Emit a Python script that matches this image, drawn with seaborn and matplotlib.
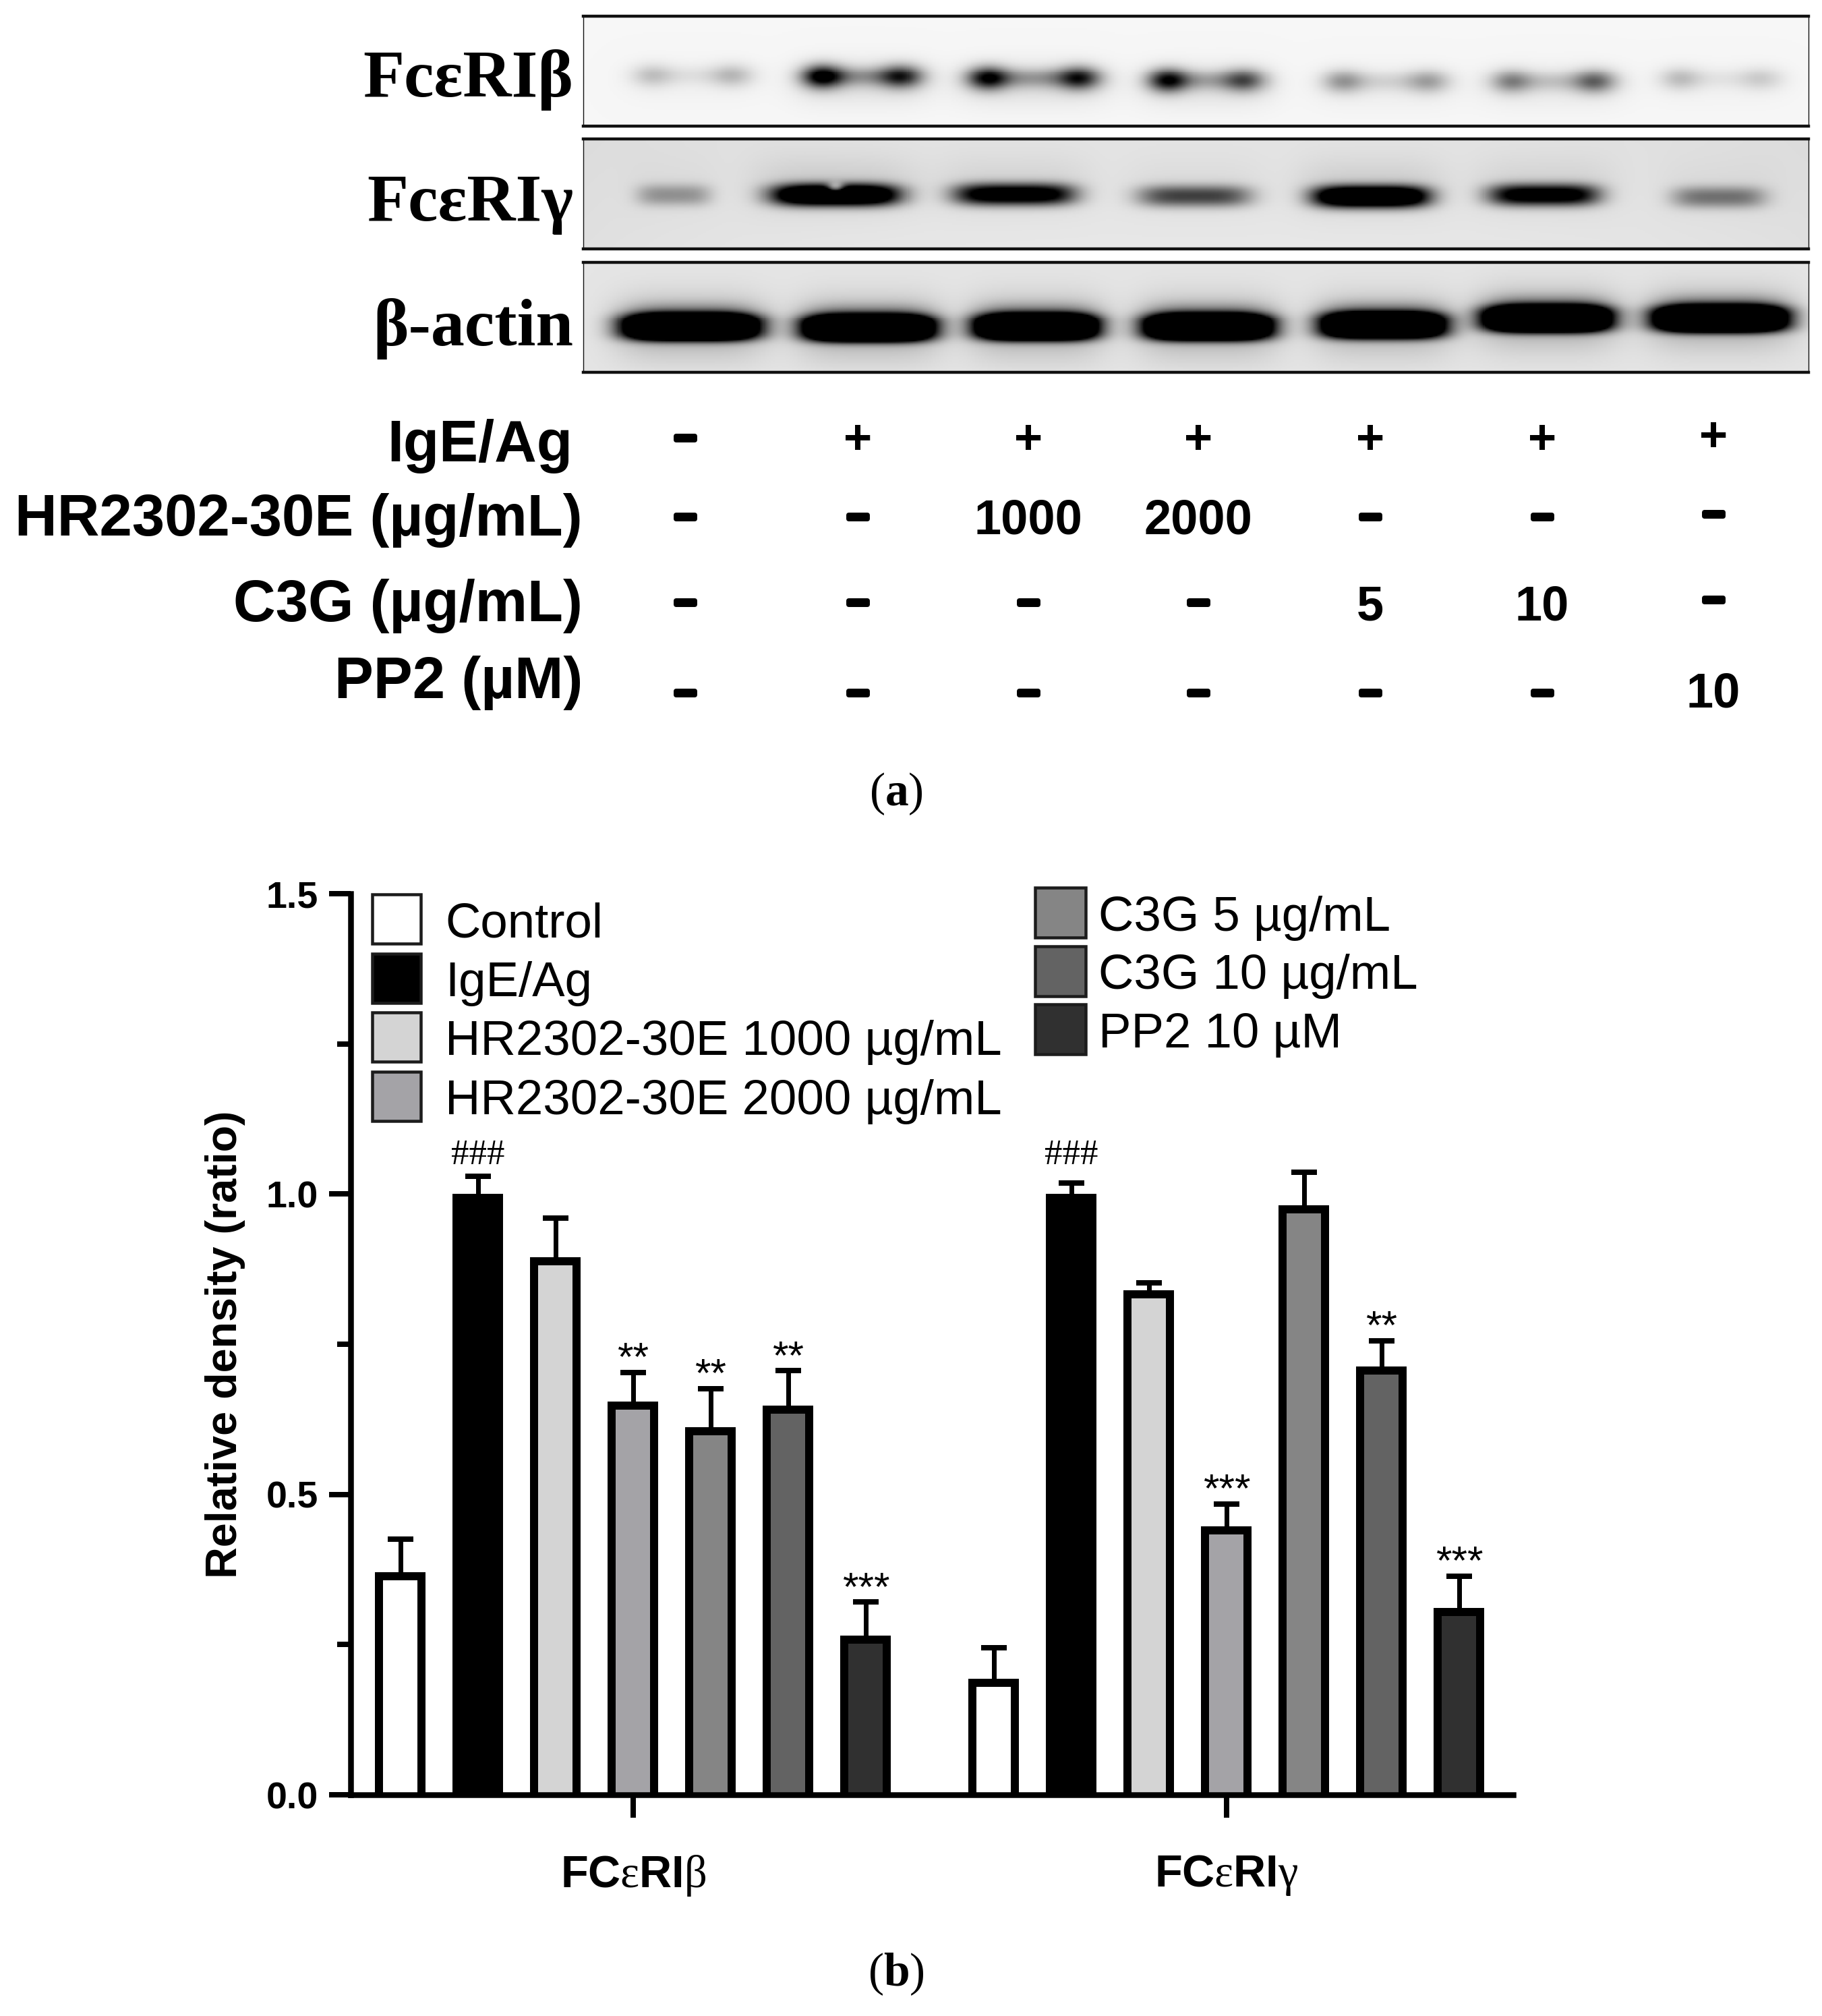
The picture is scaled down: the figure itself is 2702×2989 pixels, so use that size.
import numpy as np
import pandas as pd
import matplotlib
matplotlib.use("Agg")
import matplotlib.pyplot as plt
import matplotlib.patheffects as pe
from matplotlib.patches import Patch
from matplotlib.transforms import Bbox, TransformedBbox
import seaborn as sns

# ---------- data ----------
groups = ["FC$\\mathrm{ε}$RI$\\mathrm{β}$", "FC$\\mathrm{ε}$RI$\\mathrm{γ}$"]
treatments = ["Control", "IgE/Ag", "HR2302-30E 1000 µg/mL", "HR2302-30E 2000 µg/mL",
              "C3G 5 µg/mL", "C3G 10 µg/mL", "PP2 10 µM"]
beta_values = [0.37, 1.00, 0.895, 0.655, 0.612, 0.648, 0.265]
beta_errors = [0.055, 0.03, 0.065, 0.048, 0.064, 0.058, 0.056]
gamma_values = [0.193, 1.00, 0.84, 0.447, 0.981, 0.713, 0.311]
gamma_errors = [0.052, 0.018, 0.012, 0.037, 0.055, 0.043, 0.053]
beta_marks = ["", "###", "", "**", "**", "**", "***"]
gamma_marks = ["", "###", "", "***", "", "**", "***"]
bar_colors = ["#ffffff", "#000000", "#d4d4d4", "#a4a3a7", "#858585", "#636363", "#303030"]

blot_names = ["FcεRIβ", "FcεRIγ", "β-actin"]
row_names = ["IgE/Ag", "HR2302-30E (µg/mL)", "C3G (µg/mL)", "PP2 (µM)"]
row_igE = ["–", "+", "+", "+", "+", "+", "+"]
row_hr = ["–", "–", "1000", "2000", "–", "–", "–"]
row_c3g = ["–", "–", "–", "–", "5", "10", "–"]
row_pp2 = ["–", "–", "–", "–", "–", "–", "10"]

# band darkness per lane
beta_left = [0.15, 0.85, 0.75, 0.75, 0.28, 0.32, 0.17]
beta_right = [0.18, 0.6, 0.65, 0.45, 0.24, 0.44, 0.11]
beta_lobe_l = [0.056, 0.195, 0.33, 0.477, 0.62, 0.757, 0.895]
beta_lobe_r = [0.122, 0.26, 0.405, 0.54, 0.69, 0.826, 0.962]
beta_row = [0.54, 0.55, 0.565, 0.585, 0.595, 0.595, 0.57]
gamma_dark = [0.3, 1.5, 1.1, 0.62, 1.5, 1.05, 0.42]
gamma_x = [0.074, 0.206, 0.352, 0.499, 0.643, 0.784, 0.927]
gamma_hw = [0.03, 0.052, 0.049, 0.046, 0.047, 0.045, 0.038]
gamma_row = [0.51, 0.51, 0.505, 0.52, 0.525, 0.51, 0.53]
gamma_notch = [0, 0.8, 0, 0, 0, 0, 0]
actin_dark = [2.4, 2.4, 2.3, 2.3, 2.1, 2.4, 2.4]
actin_x = [0.088, 0.233, 0.37, 0.51, 0.653, 0.787, 0.928]
actin_hw = [0.054, 0.052, 0.049, 0.051, 0.05, 0.051, 0.053]
actin_row = [0.59, 0.6, 0.59, 0.59, 0.575, 0.515, 0.515]

# ---------- layout (pixels in the 2702x2989 figure) ----------
W, H = 2702, 2989
PX = 0.72  # points per pixel at dpi 100
def rect(x0, y0, x1, y1):
    return [x0 / W, 1 - y1 / H, (x1 - x0) / W, (y1 - y0) / H]

sns.set_theme(style="white", rc={"xtick.bottom": True, "ytick.left": True, "text.color": "black",
                                 "axes.labelcolor": "black", "xtick.color": "black",
                                 "ytick.color": "black"})
plt.rcParams["font.family"] = ["Liberation Sans", "DejaVu Sans"]
plt.rcParams["mathtext.fontset"] = "custom"
plt.rcParams["mathtext.rm"] = "Liberation Serif"
plt.rcParams["mathtext.bf"] = "Liberation Serif:bold"
plt.rcParams["mathtext.default"] = "regular"

fig = plt.figure(figsize=(W / 100, H / 100), dpi=100, facecolor="white")

# ---------- blots ----------
nx, ny = 900, 82
gx = (np.arange(nx) + 0.5) / nx
gy = (np.arange(ny) + 0.5) / ny
XX, YY = np.meshgrid(gx, gy)

def blot_beta():
    d = np.zeros_like(XX)
    for al, ar, xl, xr, yc in zip(beta_left, beta_right, beta_lobe_l, beta_lobe_r, beta_row):
        prof_y = np.exp(-((YY - yc) / 0.105) ** 2)
        d += al * np.exp(-((XX - xl) / 0.016) ** 2) * prof_y
        d += ar * np.exp(-((XX - xr) / 0.017) ** 2) * prof_y
        mid = (xl + xr) / 2
        hw = (xr - xl) / 2 + 0.012
        d += 0.42 * (al + ar) / 2 * np.exp(-np.abs((XX - mid) / hw) ** 4) * np.exp(-((YY - yc) / 0.09) ** 2)
        d += 0.07 * (al + ar) * np.exp(-np.abs((XX - mid) / (hw * 1.3)) ** 4) * np.exp(-((YY - yc - 0.05) / 0.2) ** 2)
    return np.clip(0.965 - d, 0, 1)

def blot_gamma():
    d = 0.035 + 0.03 * (np.abs(XX - 0.5) / 0.5) ** 3 + 0.015 * (1 - YY)
    for a, xc, hw, yc, n in zip(gamma_dark, gamma_x, gamma_hw, gamma_row, gamma_notch):
        band = a * np.exp(-np.abs((XX - xc) / hw) ** 4) * np.exp(-np.abs((YY - yc) / 0.1) ** 2.4)
        band = band * (1 - n * np.exp(-((XX - xc) / 0.007) ** 2) * np.exp(-((YY - yc + 0.09) / 0.06) ** 2))
        d = d + band
        d = d + 0.06 * a * np.exp(-np.abs((XX - xc) / (hw * 1.3)) ** 4) * np.exp(-((YY - yc + 0.1) / 0.25) ** 2)
    return np.clip(0.94 - d, 0, 1)

def blot_actin():
    d = np.full_like(XX, 0.055)
    for a, xc, hw, yc in zip(actin_dark, actin_x, actin_hw, actin_row):
        edge = np.exp(-np.abs((XX - xc) / hw) ** 4)
        d = d + a * edge * np.exp(-np.abs((YY - yc) / 0.115) ** 3)
        d = d + 0.28 * edge * np.exp(-((YY - yc + 0.13) / 0.09) ** 2)
        d = d + 0.1 * a * np.exp(-np.abs((XX - xc) / (hw * 1.15)) ** 4) * np.exp(-((YY - yc) / 0.27) ** 2)
    return np.clip(0.95 - d, 0, 1)

blot_images = [blot_beta(), blot_gamma(), blot_actin()]
blot_boxes = [(865, 24, 2682, 187), (865, 206, 2682, 369), (865, 389, 2682, 552)]
label_baselines = [143, 327, 512]
for img, box, name, base in zip(blot_images, blot_boxes, blot_names, label_baselines):
    bx = fig.add_axes(rect(*box))
    sns.heatmap(img, ax=bx, cmap="gray", vmin=0, vmax=1, cbar=False,
                xticklabels=False, yticklabels=False, rasterized=True)
    for side, lw in zip(["top", "bottom", "left", "right"], [3.2, 3.2, 1.0, 1.0]):
        bx.spines[side].set_visible(True)
        bx.spines[side].set_linewidth(lw)
        bx.spines[side].set_color("#111111")
    fig.text(850 / W, 1 - base / H, name, ha="right", va="baseline", fontsize=72,
             fontweight="bold", family="Liberation Serif", color="black")

# ---------- treatment table ----------
col_px = [1016, 1272, 1525, 1777, 2032, 2287, 2541]
col_nudge = [0, 0, 0, 0, 0, 0, -4]
row_baselines = [684, 794, 921, 1035]
row_right = [849, 864, 864, 864]
row_cy = [649, 766, 893, 1027]
for name, base, right in zip(row_names, row_baselines, row_right):
    fig.text(right / W, 1 - base / H, name, ha="right", va="baseline", fontsize=62.6,
             fontweight="bold", color="black")
cell_fs = 52
dash_fs = 42
for cells, cy in zip([row_igE, row_hr, row_c3g, row_pp2], row_cy):
    for s, cx, nud in zip(cells, col_px, col_nudge):
        if s == "–":
            base = cy + nud + 0.27 * dash_fs / PX
            fig.text(cx / W, 1 - base / H, s, ha="center", va="baseline", fontsize=dash_fs,
                     fontweight="bold", color="black",
                     path_effects=[pe.withStroke(linewidth=5, foreground="black")])
        else:
            mid = 0.33 if s == "+" else 0.36
            base = cy + nud + mid * cell_fs / PX
            fig.text(cx / W, 1 - base / H, s, ha="center", va="baseline", fontsize=cell_fs,
                     fontweight="bold", color="black")

# captions
fig.text(1329 / W, 1 - 1177 / H, "($\\mathbf{a}$)", ha="center", va="center", fontsize=50,
         family="Liberation Serif", color="black")
fig.text(1329 / W, 1 - 2927 / H, "($\\mathbf{b}$)", ha="center", va="center", fontsize=50,
         family="Liberation Serif", color="black")

# ---------- bar chart ----------
df = pd.DataFrame({
    "group": [groups[0]] * 7 + [groups[1]] * 7,
    "treatment": treatments * 2,
    "value": beta_values + gamma_values,
    "error": beta_errors + gamma_errors,
    "mark": beta_marks + gamma_marks,
})
ax = fig.add_axes(rect(519.5, 1325, 2244, 2661))
ax.set_facecolor("none")
stroke_pt = 24 * PX  # clipped to the bar, so half of it shows inside the bar
sns.barplot(data=df, x="group", y="value", hue="treatment", hue_order=treatments,
            order=groups, palette=bar_colors, width=0.9148, gap=0.348, saturation=1,
            edgecolor="black", linewidth=stroke_pt, errorbar=None, legend=False, ax=ax, zorder=3)
ax.set_xlim(-0.4767, 1.483)
ax.set_ylim(0, 1.5)
hash_base = 1.05
for cont, t in zip(ax.containers, treatments):
    sub = df[df.treatment == t]
    for bar, (_, row) in zip(cont, sub.iterrows()):
        x0, w, v = bar.get_x(), bar.get_width(), bar.get_height()
        # the bottom edge runs below the axis line, so only the sides and the top show a stroke
        bar.set_y(-0.05)
        bar.set_height(v + 0.05)
        bar.set_clip_box(TransformedBbox(Bbox([[x0, 0], [x0 + w, v]]), ax.transData))
        xc = x0 + w / 2
        ax.errorbar(xc, row["value"], yerr=[[0.03], [row["error"]]], ecolor="black",
                    elinewidth=7 * PX, capsize=19 * PX, capthick=8 * PX, zorder=2, clip_on=False)
        top = row["value"] + row["error"]
        if row["mark"].startswith("*"):
            ax.annotate(row["mark"], (xc, top), xytext=(0, 2.5), textcoords="offset points",
                        ha="center", va="baseline", fontsize=43.5, color="black")
        elif row["mark"]:
            ax.annotate(row["mark"], (xc, hash_base), ha="center", va="baseline", fontsize=38,
                        color="black", family="Liberation Serif")

ax.set_yticks([0, 0.5, 1.0, 1.5])
ax.set_yticklabels(["0.0", "0.5", "1.0", "1.5"], fontweight="bold", fontsize=40)
ax.set_yticks([0.25, 0.75, 1.25], minor=True)
ax.tick_params(axis="y", which="major", length=32 * PX, width=8 * PX, pad=11, color="black", left=True)
ax.tick_params(axis="y", which="minor", length=20 * PX, width=8 * PX, color="black", left=True)
ax.tick_params(axis="x", which="major", length=34 * PX, width=8 * PX, pad=38, color="black", bottom=True)
for lab in ax.get_xticklabels():
    lab.set_fontsize(48)
    lab.set_fontweight("bold")
for side in ["top", "right"]:
    ax.spines[side].set_visible(False)
for side in ["left", "bottom"]:
    ax.spines[side].set_linewidth(8.5 * PX)
    ax.spines[side].set_color("black")
    ax.spines[side].set_zorder(5)
ax.set_xlabel("")
ax.set_ylabel("Relative density (ratio)", fontsize=46.5, fontweight="bold", color="black", labelpad=0)
ax.yaxis.set_label_coords((364 - 519.5) / (2244 - 519.5), 0.5 + 0 / 1336)

# legends
def make_legend(labels, colors, x_px, y_px, h_w, h_h, row_gap, tpad):
    fs = 52.3
    em = fs / PX
    handles = [Patch(facecolor=c, edgecolor="#1c1c1c", linewidth=4.5 * PX) for c in colors]
    leg = ax.legend(handles, labels, loc="upper left", bbox_to_anchor=(x_px / W, 1 - y_px / H),
                    bbox_transform=fig.transFigure, frameon=False, fontsize=fs, borderpad=0,
                    borderaxespad=0, handlelength=h_w / em, handleheight=(h_h / em - 0.245) / 0.65,
                    labelspacing=row_gap / em, handletextpad=tpad / em, labelcolor="black")
    for t in leg.get_texts():
        t.set_position((0, -2))
    return leg

leg1 = make_legend(treatments[:4], bar_colors[:4], 552, 1326, 72, 73, 11.5, 36)
ax.add_artist(leg1)
leg2 = make_legend(treatments[4:], bar_colors[4:], 1535, 1316, 75, 74, 10, 19)

fig.savefig("out.png", dpi=100, facecolor="white")
